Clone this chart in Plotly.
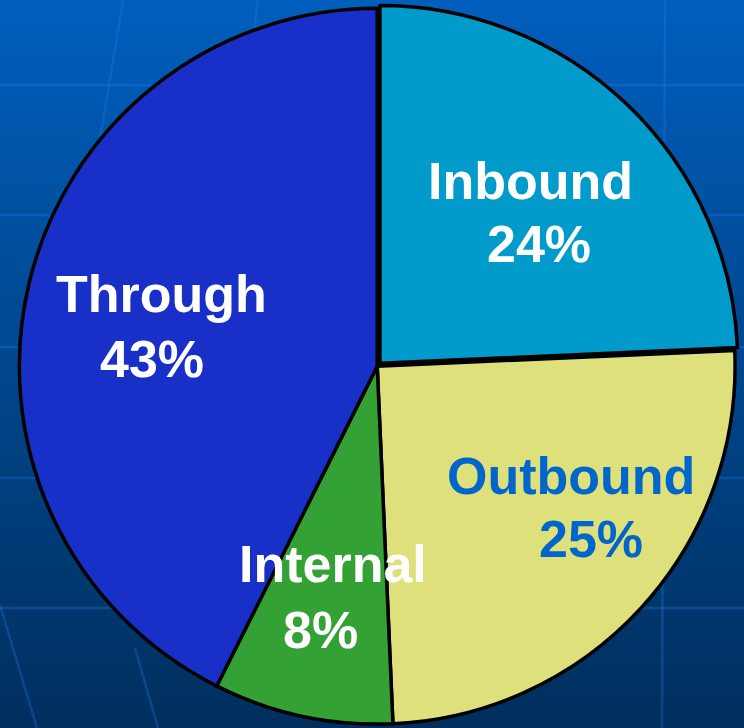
import plotly.graph_objects as go

# ---- data ----
labels = ["Inbound", "Outbound", "Internal", "Through"]
values = [24.3, 25.0, 8.1, 42.6]
slice_colors = ["#009BCB", "#DEE07C", "#33A133", "#1930C8"]
text_colors = ["#FFFFFF", "#0066CC", "#FFFFFF", "#FFFFFF"]
pulls = [0.011, 0, 0, 0]

W, H = 744, 728
total = sum(values)
pct_text = [f"{round(100 * v / total)}%" for v in values]

fig = go.Figure()

fig.add_trace(go.Pie(
    labels=labels,
    values=values,
    sort=False,
    direction="clockwise",
    rotation=0,
    pull=pulls,
    marker=dict(colors=slice_colors, line=dict(color="#000000", width=3.5)),
    textinfo="none",
    hoverinfo="label+percent",
    showlegend=False,
    domain=dict(x=[0.014, 1.0], y=[0.0, 0.994]),
))

# ---- background gradient (decorative, seamless: each band reaches to the bottom) ----
shapes = []
top_rgb = (0, 94, 188)
bot_rgb = (0, 47, 94)
n = 80
for i in range(n):
    t = i / (n - 1)
    c = tuple(int(round(top_rgb[k] + (bot_rgb[k] - top_rgb[k]) * t)) for k in range(3))
    shapes.append(dict(type="rect", xref="paper", yref="paper",
                       x0=0, x1=1, y0=0, y1=1 - i / n,
                       fillcolor=f"rgb{c}", line=dict(width=0), layer="below"))

grid_col = "rgba(30,130,255,0.28)"
for py in [85, 215, 347, 478, 608]:
    shapes.append(dict(type="line", xref="paper", yref="paper",
                       x0=0, x1=1, y0=1 - py / H, y1=1 - py / H,
                       line=dict(color=grid_col, width=2.5), layer="below"))
for (xa, ya, xb, yb) in [(123, 0, 95, 170), (258, 0, 250, 60), (665, 0, 662, 728),
                         (0, 605, 37, 728), (135, 648, 158, 728)]:
    shapes.append(dict(type="line", xref="paper", yref="paper",
                       x0=xa / W, y0=1 - ya / H, x1=xb / W, y1=1 - yb / H,
                       line=dict(color=grid_col, width=2.5), layer="below"))

# ---- labels (positions in pixels; text from data) ----
label_pos = {
    "Inbound": ((530, 181), (539, 244)),
    "Outbound": ((571, 476), (591, 539)),
    "Internal": ((333, 564), (320, 630)),
    "Through": ((161, 294), (152, 359)),
}
font_family = "Liberation Sans, Arial, sans-serif"
annotations = []
for lab, pct, tc in zip(labels, pct_text, text_colors):
    (lx, ly), (px, py) = label_pos[lab]
    for txt, x, y in [(lab, lx, ly), (pct, px, py)]:
        annotations.append(dict(
            text=f"<b>{txt}</b>", x=x / W, y=1 - y / H, xref="paper", yref="paper",
            xanchor="center", yanchor="middle", showarrow=False,
            font=dict(family=font_family, size=52, color=tc)))

fig.update_layout(
    width=W, height=H,
    margin=dict(l=0, r=0, t=0, b=0),
    paper_bgcolor="#004A94",
    plot_bgcolor="#004A94",
    shapes=shapes,
    annotations=annotations,
)

fig.write_html(
    "out.html",
    config={"displayModeBar": False},
    post_script="document.documentElement.style.margin='0';document.body.style.margin='0';"
                "document.body.style.overflow='hidden';",
)
